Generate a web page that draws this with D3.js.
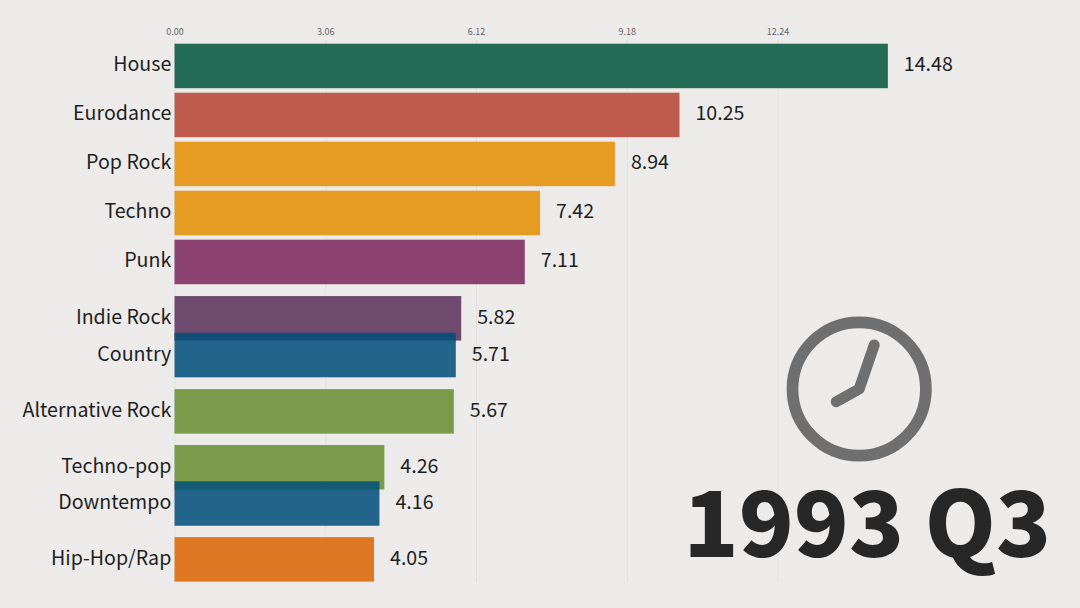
<!DOCTYPE html>
<html><head><meta charset="utf-8">
<script src="https://cdn.jsdelivr.net/npm/d3@7"></script>
<style>
html,body{margin:0;padding:0;background:#ecebea;overflow:hidden}
text{font-family:"Noto Sans CJK SC","Noto Sans",sans-serif}
</style></head><body>
<svg id="c" width="1080" height="608"></svg>
<script>
const genres = ["House","Eurodance","Pop Rock","Techno","Punk","Indie Rock","Country","Alternative Rock","Techno-pop","Downtempo","Hip-Hop/Rap"];
const values = [14.48,10.25,8.94,7.42,7.11,5.82,5.71,5.67,4.26,4.16,4.05];
// ranks are fractional: the frame is caught mid-transition
const ranks = [0,1,2,3,4,5.15,5.9,7.05,8.19,8.93,10.07];
const colors = ["#00553a","#b84333","#e58d00","#e58d00","#7b245b","#582e58","#004d79","#668c30","#668c30","#004d79","#de6400"];
const tickVals = [0,3.06,6.12,9.18,12.24];
const period = "1993 Q3";

const svg = d3.select("#c");
const x = d3.scaleLinear().domain([0,12.24]).range([174.5,777.5]);
const y = d3.scaleLinear().domain([0,10]).range([43.7,533.7]);
const barH = 44.5;

const axis = d3.axisTop(x).tickValues(tickVals).tickFormat(d3.format(".2f")).tickSize(-542).tickPadding(4);
const ag = svg.append("g").attr("transform","translate(0,40)").call(axis);
ag.select(".domain").remove();
ag.selectAll("line").attr("stroke","#e0e0de").attr("stroke-width",1);
ag.selectAll("text").attr("fill","#666").attr("font-size",9).attr("y",-5);

const rows = genres.map((g,i)=>({g,v:values[i],r:ranks[i],c:colors[i]}));
svg.append("g").selectAll("rect").data(rows).join("rect")
  .attr("x",x(0)).attr("y",d=>y(d.r)).attr("width",d=>x(d.v)-x(0)).attr("height",barH)
  .attr("fill",d=>d.c).attr("fill-opacity",0.85);

svg.append("g").selectAll("text").data(rows).join("text")
  .attr("x",x(0)-3.2).attr("y",d=>y(d.r)+barH/2+0.2).attr("text-anchor","end").attr("dominant-baseline","middle")
  .attr("font-size",19.6).attr("fill","#1e1e1e").text(d=>d.g);

svg.append("g").selectAll("text").data(rows).join("text")
  .attr("x",d=>x(d.v)+16).attr("y",d=>y(d.r)+barH/2+0.2).attr("dominant-baseline","middle")
  .attr("font-size",19.6).attr("fill","#1e1e1e").text(d=>d.v.toFixed(2));

// clock icon
const clock = svg.append("g").attr("transform","translate(859.2,389)");
clock.append("circle").attr("r",66.7).attr("fill","none").attr("stroke","#6f6f6f").attr("stroke-width",11.7);
const hands = [[15,-44],[0,0],[-23,12.7]];
clock.append("path").attr("d",d3.line()(hands)).attr("fill","none").attr("stroke","#6f6f6f")
  .attr("stroke-width",11).attr("stroke-linecap","round").attr("stroke-linejoin","round");

svg.append("text").attr("x",1051).attr("y",557).attr("text-anchor","end")
  .attr("font-size",90.5).attr("font-weight",900).attr("fill","#272727").text(period);
</script></body></html>
